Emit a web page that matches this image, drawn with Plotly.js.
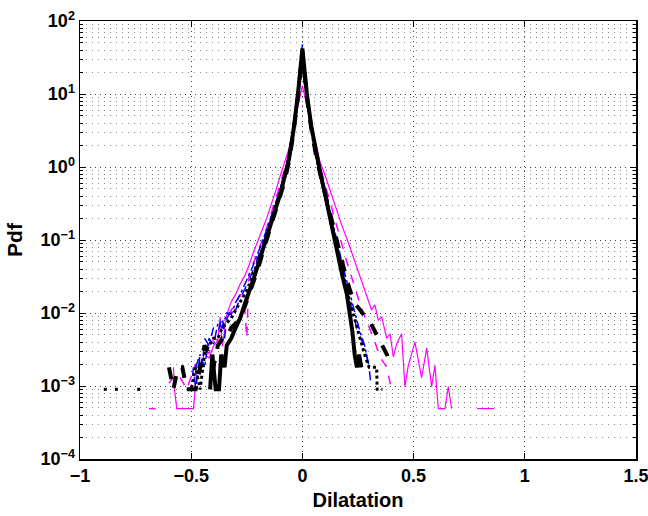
<!DOCTYPE html>
<html>
<head>
<meta charset="utf-8">
<script src="https://cdn.plot.ly/plotly-3.0.1.min.js"></script>
<style>html,body{margin:0;padding:0;background:#fff;}</style>
</head>
<body>
<div id="chart" style="width:648px;height:516px;"></div>
<script>
// ---- data ----
const xTickVals = [-1, -0.5, 0, 0.5, 1, 1.5];
const xTickText = ['\u22121', '\u22120.5', '0', '0.5', '1', '1.5'];
const yTickVals = [1e-4, 1e-3, 1e-2, 1e-1, 1e0, 1e1, 1e2];
const yTickText = ['10<sup>\u22124</sup>', '10<sup>\u22123</sup>', '10<sup>\u22122</sup>', '10<sup>\u22121</sup>', '10<sup>0</sup>', '10<sup>1</sup>', '10<sup>2</sup>'];

// black solid
const aX = [-0.415,-0.405,-0.39,-0.375,-0.365,-0.35,-0.34,-0.32,-0.30,-0.28,-0.26,-0.24,-0.22,-0.20,-0.18,-0.16,-0.14,-0.12,-0.10,-0.08,-0.06,-0.04,-0.02,0,0.02,0.04,0.06,0.08,0.10,0.12,0.14,0.16,0.18,0.20,0.215,0.225,0.235,0.245,0.255,0.265];
const aY = [0.0009,0.0027,0.0009,0.0009,0.0027,0.0018,0.0036,0.0045,0.0063,0.0085,0.013,0.019,0.029,0.045,0.072,0.11,0.17,0.27,0.42,0.7,1.3,3.2,10,42,10,3.6,1.6,0.85,0.45,0.23,0.115,0.06,0.032,0.018,0.0095,0.0055,0.0027,0.0018,0.0027,0.0018];

// black dashed
const bX = [-0.60,-0.58,-0.56,-0.54,-0.52,-0.50,-0.48,-0.46,-0.44,-0.42,-0.40,-0.38,-0.36,-0.34,-0.32,-0.30,-0.28,-0.26,-0.24,-0.22,-0.20,-0.18,-0.16,-0.14,-0.12,-0.10,-0.08,-0.06,-0.04,-0.02,0,0.02,0.04,0.06,0.08,0.10,0.12,0.14,0.16,0.18,0.20,0.22,0.24,0.26,0.28,0.30,0.32,0.34,0.36,0.38,0.40];
const bY = [0.0018,0.0009,0.0018,0.0018,0.0009,0.0009,0.0009,0.0018,0.0036,0.0027,0.0018,0.0036,0.0045,0.0045,0.0063,0.0072,0.009,0.012,0.018,0.026,0.04,0.065,0.1,0.16,0.25,0.4,0.65,1.2,3.0,9,38,9,3.4,1.5,0.8,0.45,0.25,0.14,0.08,0.045,0.028,0.018,0.013,0.011,0.009,0.008,0.006,0.0045,0.0036,0.0027,0.0018];

// black dotted
const cX = [-0.893,-0.878,-0.87,-0.843,-0.828,-0.82,-0.743,-0.728,-0.72,-0.52,-0.50,-0.48,-0.46,-0.44,-0.42,-0.40,-0.38,-0.36,-0.34,-0.32,-0.30,-0.28,-0.26,-0.24,-0.22,-0.20,-0.18,-0.16,-0.14,-0.12,-0.10,-0.08,-0.06,-0.04,-0.02,0,0.02,0.04,0.06,0.08,0.10,0.12,0.14,0.16,0.18,0.20,0.22,0.24,0.26,0.28,0.30,0.32,0.334,0.336,0.36];
const cY = [0.0009,0.0009,null,0.0009,0.0009,null,0.0009,0.0009,null,0.0009,0.0009,0.0018,0.0009,0.0027,0.0036,0.0045,0.0045,0.0063,0.0072,0.0085,0.011,0.014,0.018,0.024,0.034,0.05,0.075,0.115,0.18,0.28,0.44,0.72,1.3,3.1,9.5,35,9.5,3.4,1.5,0.82,0.44,0.23,0.12,0.065,0.036,0.02,0.012,0.0072,0.0045,0.0027,0.0018,0.0018,0.0018,0.0009,0.0009];

// blue dashed
const dX = [-0.52,-0.50,-0.49,-0.48,-0.46,-0.45,-0.44,-0.42,-0.40,-0.38,-0.36,-0.35,-0.34,-0.32,-0.30,-0.28,-0.26,-0.24,-0.22,-0.20,-0.18,-0.16,-0.14,-0.12,-0.10,-0.08,-0.06,-0.04,-0.02,0,0.02,0.04,0.06,0.08,0.10,0.12,0.14,0.16,0.18,0.20,0.22,0.24,0.26,0.28,0.30,0.31];
const dY = [0.0009,0.0009,0.0018,0.0009,0.0027,0.0018,0.0045,0.0036,0.0063,0.0054,0.009,0.0045,0.0081,0.012,0.011,0.016,0.021,0.028,0.04,0.057,0.085,0.13,0.2,0.31,0.48,0.8,1.5,3.5,11,48,11,3.8,1.7,0.95,0.5,0.27,0.14,0.075,0.04,0.022,0.012,0.007,0.0045,0.0036,0.0018,0.0009];

// blue dash-dot
const eX = [-0.48,-0.46,-0.44,-0.42,-0.40,-0.38,-0.36,-0.34,-0.32,-0.30,-0.28,-0.26,-0.24,-0.22,-0.20,-0.18,-0.16,-0.14,-0.12,-0.10,-0.08,-0.06,-0.04,-0.02,0,0.02,0.04,0.06,0.08,0.10,0.12,0.14,0.16,0.18,0.20,0.22,0.24,0.26,0.28,0.30];
const eY = [0.0018,0.0027,0.0018,0.0045,0.0036,0.0072,0.0063,0.01,0.0095,0.014,0.018,0.024,0.033,0.046,0.065,0.095,0.14,0.21,0.32,0.5,0.82,1.5,3.4,9.5,30,9.5,3.6,1.7,0.95,0.52,0.29,0.16,0.085,0.046,0.026,0.015,0.009,0.0054,0.0036,0.0018];

// magenta solid
const fX = [-0.58,-0.575,-0.565,-0.535,-0.49,-0.475,-0.46,-0.44,-0.42,-0.40,-0.38,-0.37,-0.36,-0.34,-0.32,-0.30,-0.28,-0.26,-0.24,-0.22,-0.20,-0.18,-0.16,-0.14,-0.12,-0.10,-0.08,-0.06,-0.04,-0.02,0,0.02,0.04,0.06,0.08,0.10,0.12,0.14,0.16,0.18,0.20,0.22,0.24,0.267,0.289,0.311,0.326,0.341,0.357,0.379,0.394,0.409,0.424,0.446,0.461,0.476,0.506,0.536,0.559,0.581,0.596,0.611,0.641,0.656,0.671,0.72,0.786,0.862];
const fY = [0.0018,0.0009,0.00049,0.00049,0.00049,0.0015,0.0018,0.0028,0.0024,0.0035,0.0042,0.0088,0.0035,0.0095,0.0143,0.018,0.025,0.032,0.045,0.068,0.1,0.14,0.2,0.3,0.47,0.75,1.15,1.8,3.6,7,13,7,3.8,2.0,1.15,0.8,0.52,0.34,0.22,0.15,0.105,0.07,0.045,0.0255,0.0167,0.011,0.0129,0.008,0.0088,0.0045,0.0052,0.0025,0.0038,0.0052,0.00098,0.0019,0.004,0.0013,0.0033,0.00098,0.0019,0.00049,0.00049,0.00098,0.00049,null,0.00049,0.00049];

// magenta dashed
const gX = [-0.69,-0.66,-0.63,-0.60,-0.56,-0.52,-0.48,-0.46,-0.44,-0.42,-0.40,-0.38,-0.36,-0.34,-0.32,-0.30,-0.28,-0.26,-0.25,-0.24,-0.22,-0.20,-0.18,-0.16,-0.14,-0.12,-0.10,-0.08,-0.06,-0.04,-0.02,0,0.02,0.04,0.06,0.08,0.10,0.12,0.14,0.16,0.18,0.20,0.22,0.24,0.26,0.28,0.30,0.32,0.34,0.36,0.38,0.40];
const gY = [0.00049,0.00049,null,0.0011,0.0015,0.0009,0.002,0.0016,0.0032,0.0028,0.0045,0.0042,0.0068,0.0075,0.011,0.013,0.018,0.012,0.0045,0.034,0.048,0.07,0.1,0.15,0.23,0.36,0.57,0.95,1.6,3.5,8.5,22,8.5,3.6,1.8,1.0,0.6,0.37,0.22,0.13,0.08,0.05,0.032,0.02,0.013,0.009,0.0065,0.0045,0.003,0.0022,0.0018,0.0009];

// ---- traces ----
function tr(x, y, color, width, dash) {
  return {x: x, y: y, type: 'scatter', mode: 'lines', connectgaps: false,
          line: {color: color, width: width, dash: dash}, hoverinfo: 'skip'};
}
const traces = [
  tr(fX, fY, '#ff00ff', 1.2, 'solid'),
  tr(gX, gY, '#ff00ff', 1.5, 'dash'),
  tr(dX, dY, '#0000ff', 1.5, 'dash'),
  tr(eX, eY, '#0000ff', 1.5, 'dashdot'),
  tr(bX, bY, '#000000', 4, 'dash'),
  tr(cX, cY, '#000000', 3, 'dot'),
  tr(aX, aY, '#000000', 4, 'solid')
];

// minor log grid positions (2..9 in each decade)
const minorVals = [];
for (let e = -4; e < 2; e++) for (let k = 2; k <= 9; k++) minorVals.push(k * Math.pow(10, e));

const fontFam = 'Liberation Sans, Arial, Helvetica, sans-serif';
const layout = {
  width: 648, height: 516,
  margin: {l: 80, r: 12, t: 21, b: 57},
  paper_bgcolor: '#ffffff', plot_bgcolor: '#ffffff',
  showlegend: false,
  font: {family: fontFam, color: '#000'},
  xaxis: {
    range: [-1, 1.5], tickmode: 'array', tickvals: xTickVals, ticktext: xTickText,
    ticks: 'inside', ticklen: 6, tickwidth: 1, tickcolor: '#000',
    showline: true, linecolor: '#000', linewidth: 1.5, mirror: 'ticks',
    showgrid: true, gridcolor: '#444', gridwidth: 1, griddash: '1px,4px',
    zeroline: false, ticklabeloverflow: 'allow',
    tickfont: {size: 18, weight: 'bold', family: fontFam},
    title: {text: 'Dilatation', font: {size: 20, weight: 'bold', family: fontFam}, standoff: 8}
  },
  yaxis: {
    type: 'log', range: [-4, 2], tickmode: 'array', tickvals: yTickVals, ticktext: yTickText,
    ticks: 'inside', ticklen: 6, tickwidth: 1, tickcolor: '#000',
    showline: true, linecolor: '#000', linewidth: 1.5, mirror: 'ticks',
    showgrid: true, gridcolor: '#444', gridwidth: 1, griddash: '1px,4px',
    zeroline: false, ticklabeloverflow: 'allow',
    minor: {tickmode: 'array', tickvals: minorVals, ticks: 'inside', ticklen: 3, tickcolor: '#000',
            showgrid: true, gridcolor: '#888', gridwidth: 1, griddash: '1px,5px'},
    tickfont: {size: 18, weight: 'bold', family: fontFam},
    title: {text: 'Pdf', font: {size: 21, weight: 'bold', family: fontFam}, standoff: 12}
  }
};

Plotly.newPlot('chart', traces, layout, {staticPlot: true, displayModeBar: false});
</script>
</body>
</html>
